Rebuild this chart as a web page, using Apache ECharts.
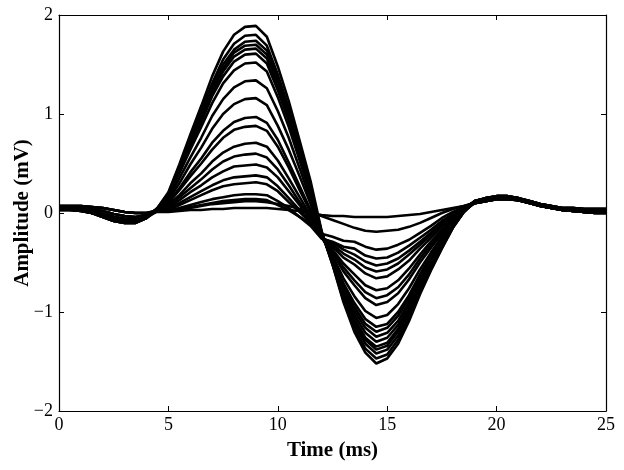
<!DOCTYPE html>
<html><head><meta charset="utf-8">
<script src="https://cdn.jsdelivr.net/npm/echarts@6/dist/echarts.min.js"></script>
<style>html,body{margin:0;padding:0;background:#fff}#c{width:624px;height:470px}</style>
</head><body><div id="c"></div>
<script>
const times = [0,0.5,1,1.5,2,2.5,3,3.5,4,4.5,5,5.5,6,6.5,7,7.5,8,8.5,9,9.5,10,10.5,11,11.5,12,12.5,13,13.5,14,14.5,15,15.5,16,16.5,17,17.5,18,18.5,19,19.5,20,20.5,21,21.5,22,22.5,23,23.5,24,24.5,25];

const s1 = [0.04,0.04,0.03,0.0,-0.04,-0.08,-0.10,-0.10,-0.05, 0.05,0.21,0.49,0.79,1.08,1.38,1.63,1.80,1.88,1.89,1.78, 1.48,1.13,0.73,0.32,-0.18,-0.52,-0.90, -1.20,-1.41,-1.52,-1.47,-1.32,-1.09,-0.82, -0.58,-0.36,-0.15,0.01, 0.12,0.15,0.17,0.17,0.15,0.12,0.09,0.07,0.05,0.05,0.04,0.04,0.04];
const s2 = [0.03,0.03,0.02,0.0,-0.02,-0.05,-0.08,-0.09,-0.04, 0.05,0.20,0.47,0.76,1.03,1.31,1.55,1.71,1.79,1.80,1.69, 1.40,1.06,0.66,0.26,-0.19,-0.52,-0.88, -1.16,-1.37,-1.47,-1.43,-1.28,-1.06,-0.79, -0.56,-0.35,-0.15,0.01, 0.11,0.14,0.16,0.16,0.14,0.11,0.08,0.06,0.04,0.03,0.02,0.02,0.02];
const s3 = [0.05,0.05,0.04,0.02,-0.01,-0.04,-0.06,-0.06,-0.03, 0.04,0.19,0.45,0.73,0.99,1.27,1.50,1.65,1.73,1.74,1.64, 1.35,1.02,0.64,0.25,-0.19,-0.51,-0.85, -1.12,-1.32,-1.42,-1.38,-1.24,-1.02,-0.77, -0.54,-0.33,-0.14,0.01, 0.12,0.15,0.17,0.17,0.15,0.12,0.09,0.07,0.05,0.05,0.04,0.04,0.04];
const s4 = [0.04,0.04,0.03,0.0,-0.04,-0.08,-0.10,-0.10,-0.05, 0.04,0.19,0.44,0.71,0.97,1.24,1.46,1.62,1.69,1.70,1.60, 1.32,0.99,0.62,0.23,-0.20,-0.50,-0.83, -1.09,-1.28,-1.38,-1.34,-1.20,-0.99,-0.75, -0.52,-0.32,-0.14,0.01, 0.11,0.14,0.16,0.16,0.14,0.11,0.08,0.06,0.04,0.03,0.02,0.02,0.02];
const s5 = [0.06,0.06,0.05,0.04,0.02,-0.01,-0.03,-0.04,-0.02, 0.04,0.18,0.43,0.70,0.95,1.21,1.43,1.58,1.65,1.66,1.56, 1.29,0.96,0.60,0.22,-0.20,-0.49,-0.82, -1.07,-1.26,-1.35,-1.31,-1.17,-0.97,-0.73, -0.51,-0.31,-0.13,0.02, 0.11,0.13,0.15,0.15,0.13,0.10,0.07,0.05,0.03,0.02,0.01,0.01,0.01];
const s6 = [0.03,0.03,0.02,0.0,-0.02,-0.05,-0.08,-0.09,-0.04, 0.04,0.18,0.42,0.68,0.92,1.18,1.38,1.53,1.60,1.61,1.51, 1.24,0.93,0.57,0.20,-0.21,-0.48,-0.79, -1.03,-1.21,-1.30,-1.26,-1.13,-0.94,-0.70, -0.49,-0.30,-0.13,0.02, 0.12,0.15,0.17,0.17,0.15,0.12,0.09,0.07,0.05,0.05,0.04,0.04,0.04];
const s7 = [0.05,0.05,0.04,0.02,-0.01,-0.04,-0.06,-0.06,-0.03, 0.04,0.17,0.40,0.64,0.87,1.11,1.31,1.44,1.51,1.52,1.43, 1.17,0.87,0.53,0.18,-0.21,-0.47,-0.77, -0.99,-1.16,-1.25,-1.21,-1.09,-0.90,-0.68, -0.47,-0.29,-0.12,0.02, 0.11,0.14,0.16,0.16,0.14,0.11,0.08,0.06,0.04,0.03,0.02,0.02,0.02];
const s8 = [0.04,0.04,0.03,0.0,-0.04,-0.08,-0.10,-0.10,-0.05, 0.04,0.15,0.35,0.56,0.76,0.98,1.15,1.27,1.33,1.34,1.26, 1.03,0.76,0.45,0.13,-0.22,-0.46,-0.74, -0.95,-1.12,-1.20,-1.16,-1.04,-0.86,-0.65, -0.45,-0.27,-0.11,0.02, 0.10,0.12,0.14,0.14,0.13,0.10,0.07,0.05,0.03,0.02,0.01,0.00,0.00];
const s9 = [0.07,0.07,0.07,0.06,0.05,0.03,0.01,0.0,0.0, 0.03,0.13,0.30,0.49,0.66,0.85,1.00,1.10,1.15,1.16,1.09, 0.88,0.64,0.37,0.09,-0.23,-0.45,-0.71, -0.91,-1.07,-1.15,-1.12,-1.00,-0.83,-0.62, -0.43,-0.26,-0.10,0.03, 0.12,0.15,0.17,0.17,0.15,0.12,0.09,0.07,0.05,0.05,0.04,0.04,0.04];
const s10 = [0.03,0.03,0.02,0.0,-0.02,-0.05,-0.08,-0.09,-0.04, 0.03,0.11,0.25,0.41,0.55,0.71,0.83,0.92,0.96,0.97,0.91, 0.74,0.51,0.27,0.03,-0.24,-0.43,-0.66, -0.84,-0.99,-1.06,-1.03,-0.92,-0.76,-0.57, -0.40,-0.24,-0.09,0.03, 0.11,0.14,0.16,0.16,0.14,0.11,0.08,0.06,0.04,0.03,0.02,0.02,0.02];
const s11 = [0.05,0.05,0.04,0.02,-0.01,-0.04,-0.06,-0.06,-0.03, 0.03,0.10,0.23,0.37,0.50,0.64,0.76,0.84,0.87,0.88,0.83, 0.67,0.46,0.23,0.01,-0.24,-0.40,-0.59, -0.73,-0.86,-0.93,-0.90,-0.81,-0.67,-0.50, -0.35,-0.21,-0.08,0.03, 0.11,0.13,0.15,0.15,0.13,0.10,0.07,0.05,0.03,0.02,0.01,0.01,0.01];
const s12 = [0.06,0.06,0.05,0.04,0.02,-0.01,-0.03,-0.04,-0.02, 0.02,0.08,0.18,0.30,0.40,0.52,0.61,0.67,0.70,0.71,0.67, 0.53,0.35,0.16,-0.03,-0.25,-0.39,-0.55, -0.68,-0.80,-0.86,-0.83,-0.75,-0.62,-0.46, -0.32,-0.19,-0.07,0.04, 0.10,0.12,0.14,0.14,0.13,0.10,0.07,0.05,0.03,0.02,0.01,0.00,0.00];
const s13 = [0.04,0.04,0.03,0.0,-0.04,-0.08,-0.10,-0.10,-0.05, 0.02,0.07,0.16,0.25,0.34,0.44,0.52,0.57,0.59,0.60,0.56, 0.44,0.28,0.11,-0.05,-0.25,-0.37,-0.51, -0.62,-0.73,-0.78,-0.76,-0.68,-0.56,-0.42, -0.29,-0.17,-0.06,0.04, 0.11,0.14,0.16,0.16,0.14,0.11,0.08,0.06,0.04,0.03,0.02,0.02,0.02];
const s14 = [0.07,0.07,0.07,0.06,0.05,0.03,0.01,0.0,0.0, 0.02,0.05,0.13,0.21,0.28,0.36,0.42,0.47,0.48,0.49,0.46, 0.36,0.22,0.08,-0.07,-0.25,-0.34,-0.45, -0.52,-0.61,-0.66,-0.64,-0.57,-0.48,-0.36, -0.25,-0.14,-0.04,0.05, 0.12,0.15,0.17,0.17,0.15,0.12,0.09,0.07,0.05,0.05,0.04,0.04,0.04];
const s15 = [0.03,0.03,0.02,0.0,-0.02,-0.05,-0.08,-0.09,-0.04, 0.02,0.04,0.10,0.16,0.22,0.28,0.33,0.36,0.37,0.38,0.36, 0.27,0.15,0.03,-0.09,-0.25,-0.32,-0.41, -0.47,-0.55,-0.59,-0.57,-0.51,-0.42,-0.32, -0.22,-0.12,-0.03,0.05, 0.11,0.13,0.15,0.15,0.13,0.10,0.07,0.05,0.03,0.02,0.01,0.01,0.01];
const s16 = [0.05,0.05,0.04,0.02,-0.01,-0.04,-0.06,-0.06,-0.03, 0.02,0.03,0.08,0.13,0.18,0.23,0.27,0.29,0.30,0.31,0.29, 0.22,0.11,0.01,-0.10,-0.25,-0.30,-0.37, -0.42,-0.49,-0.53,-0.51,-0.46,-0.38,-0.29, -0.20,-0.10,-0.02,0.05, 0.10,0.12,0.14,0.14,0.13,0.10,0.07,0.05,0.03,0.02,0.01,0.00,0.00];
const s17 = [0.06,0.06,0.05,0.04,0.02,-0.01,-0.03,-0.04,-0.02, 0.02,0.02,0.05,0.08,0.11,0.14,0.16,0.18,0.19,0.19,0.18, 0.12,0.05,-0.04,-0.13,-0.26,-0.29,-0.34, -0.36,-0.43,-0.46,-0.45,-0.40,-0.33,-0.25, -0.17,-0.08,-0.01,0.06, 0.11,0.14,0.16,0.16,0.14,0.11,0.08,0.06,0.04,0.03,0.02,0.02,0.02];
const s18 = [0.07,0.07,0.07,0.06,0.05,0.03,0.01,0.0,0.0, 0.02,0.02,0.04,0.06,0.08,0.10,0.12,0.13,0.14,0.14,0.13, 0.08,0.03,-0.04,-0.11,-0.21,-0.24,-0.28, -0.29,-0.34,-0.37,-0.36,-0.32,-0.27,-0.20, -0.13,-0.05,0.01,0.06, 0.11,0.13,0.15,0.15,0.13,0.10,0.07,0.05,0.03,0.02,0.01,0.01,0.01];
const s19 = [0.05,0.05,0.04,0.02,-0.01,-0.04,-0.06,-0.06,-0.03, 0.02,0.02,0.03,0.05,0.07,0.09,0.10,0.11,0.12,0.12,0.11, 0.09,0.07,0.04,0.01,-0.03,-0.07,-0.11, -0.15,-0.18,-0.19,-0.18,-0.17,-0.14,-0.10, -0.05,0.00,0.04,0.07, 0.10,0.12,0.14,0.14,0.13,0.10,0.07,0.05,0.03,0.02,0.01,0.00,0.00];
const s20 = [0.07,0.07,0.07,0.06,0.05,0.03,0.01,0.0,0.0, 0.01,0.01,0.02,0.03,0.03,0.04,0.04,0.05,0.05,0.05,0.05, 0.04,0.03,0.02,0.00,-0.02,-0.03,-0.03, -0.04,-0.04,-0.04,-0.04,-0.03,-0.02,-0.01, 0.01,0.03,0.05,0.07, 0.10,0.12,0.14,0.14,0.13,0.10,0.07,0.05,0.03,0.02,0.01,0.00,0.00];

const allSeries = [s1,s2,s3,s4,s5,s6,s7,s8,s9,s10,s11,s12,s13,s14,s15,s16,s17,s18,s19,s20];

const xName = 'Time (ms)';
const yName = 'Amplitude (mV)';
const xRange = [0, 25];
const yRange = [-2, 2];

const serif = '"Liberation Serif", "Times New Roman", serif';
const chart = echarts.init(document.getElementById('c'), null, {renderer: 'canvas'});

function axisBase(extra) {
  return Object.assign({
    type: 'value',
    axisLine: {show: true, onZero: false, lineStyle: {color: '#000', width: 1.2}},
    axisTick: {show: true, inside: true, length: 5, lineStyle: {color: '#000', width: 1}},
    splitLine: {show: false}
  }, extra);
}

const option = {
  animation: false,
  backgroundColor: '#fff',
  grid: {left: 59, right: 18, top: 15, bottom: 59, containLabel: false, outerBoundsMode: 'none'},
  xAxis: [
    axisBase({
      position: 'bottom', min: xRange[0], max: xRange[1], interval: 5,
      axisLabel: {color: '#000', fontFamily: serif, fontSize: 18, margin: 5},
      name: xName, nameLocation: 'middle', nameGap: 29, nameMoveOverlap: false,
      nameTextStyle: {color: '#000', fontFamily: serif, fontWeight: 'bold', fontSize: 21}
    }),
    axisBase({position: 'top', min: xRange[0], max: xRange[1], interval: 5, axisLabel: {show: false}})
  ],
  yAxis: [
    axisBase({
      position: 'left', min: yRange[0], max: yRange[1], interval: 1,
      axisLabel: {color: '#000', fontFamily: serif, fontSize: 18, margin: 6,
        formatter: v => String(v).replace('-', '\u2212')},
      name: yName, nameLocation: 'middle', nameGap: 26, nameMoveOverlap: false,
      nameTextStyle: {color: '#000', fontFamily: serif, fontWeight: 'bold', fontSize: 21}
    }),
    axisBase({position: 'right', min: yRange[0], max: yRange[1], interval: 1, axisLabel: {show: false}})
  ],
  series: allSeries.map((vals, i) => ({
    type: 'line',
    name: 'trace ' + (i + 1),
    data: times.map((t, j) => [t, vals[j]]),
    showSymbol: false,
    symbol: 'none',
    smooth: false,
    lineStyle: {color: '#000', width: 2.6},
    itemStyle: {color: '#000'},
    z: 2
  }))
};
chart.setOption(option);
</script>
</body></html>
